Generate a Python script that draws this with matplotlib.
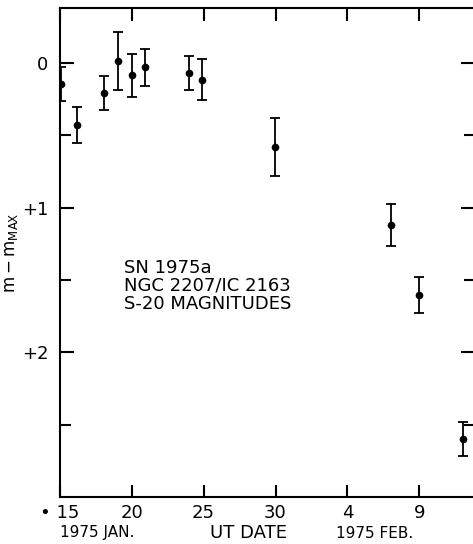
import matplotlib
matplotlib.use("Agg")
import matplotlib.pyplot as plt

# UT date in days of January 1975 (Feb d -> 31 + d)
days = [15.1, 16.2, 18.1, 19.07, 20.0, 20.9, 24.0, 24.9, 29.95, 38.0, 40.0, 43.0]
dmag = [0.145, 0.43, 0.207, -0.016, 0.085, 0.03, 0.069, 0.115, 0.58, 1.117, 1.605, 2.6]
err = [0.12, 0.125, 0.12, 0.2, 0.15, 0.13, 0.12, 0.14, 0.2, 0.145, 0.125, 0.12]

xticks = [15, 20, 25, 30, 35, 40]
xticklabels = ["\u2022 15", "20", "25", "30", "4", "9"]
yticks_major = [0, 1, 2]
yticklabels = ["0", "+1", "+2"]
yticks_minor = [0.5, 1.5, 2.5]

plt.rcParams["font.family"] = ["DejaVu Sans"]

fig = plt.figure(figsize=(4.73, 5.44), dpi=100)
ax = fig.add_axes([0.126, 0.0864, 0.878, 0.8989])

ax.errorbar(days, dmag, yerr=err, fmt="o", color="black", markersize=4.5,
            elinewidth=1.3, capsize=3.5, capthick=1.3)

ax.set_xlim(15, 43.85)
ax.set_ylim(3.0, -0.38)

ax.set_xticks(xticks)
ax.set_xticklabels(xticklabels, fontsize=13)
ax.set_yticks(yticks_major)
ax.set_yticklabels(yticklabels, fontsize=13)
ax.set_yticks(yticks_minor, minor=True)
ax.tick_params(axis="both", which="both", direction="in", width=1.5,
               top=True, right=True, labeltop=False, labelright=False)
ax.tick_params(axis="y", which="major", length=10, pad=8)
ax.tick_params(axis="y", which="minor", length=8)
ax.tick_params(axis="x", which="major", length=9, pad=5)
for s in ax.spines.values():
    s.set_linewidth(1.5)

ax.set_ylabel(r"$\mathregular{m - m_{MAX}}$", fontsize=12)
ax.yaxis.set_label_coords(-0.095, 0.5)

ax.text(0.155, 0.487, "SN 1975a\nNGC 2207/IC 2163\nS-20 MAGNITUDES",
        transform=ax.transAxes, fontsize=13, va="top", ha="left",
        linespacing=1.0)

fig.text(97 / 473, 1 - 533 / 544, "1975 JAN.", fontsize=11, ha="center", va="center")
fig.text(248 / 473, 1 - 533 / 544, "UT DATE", fontsize=13, ha="center", va="center")
fig.text(375 / 473, 1 - 533 / 544, "1975 FEB.", fontsize=11, ha="center", va="center")

fig.savefig("out.png", dpi=100)
